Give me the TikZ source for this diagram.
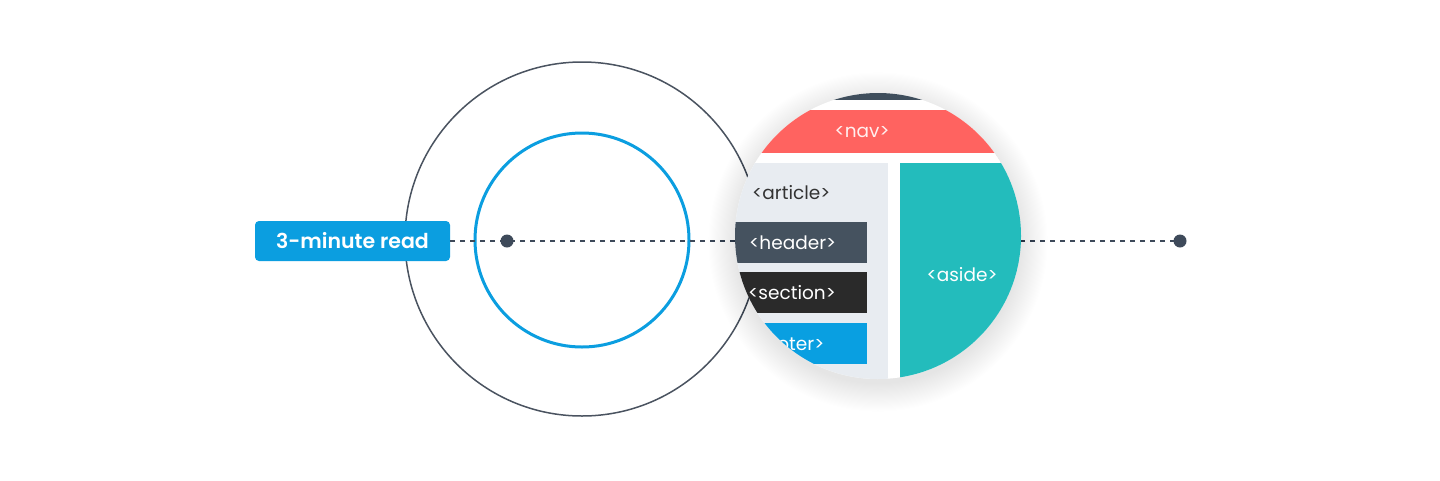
\documentclass[tikz,border=0pt]{standalone}
\usepackage{fontspec}
\setmainfont{Poppins}
\newfontfamily\semib{Poppins SemiBold}
\definecolor{brandblue}{RGB}{11,158,224}
\definecolor{outerline}{RGB}{74,83,96}
\definecolor{slate}{RGB}{62,74,90}
\definecolor{topdark}{RGB}{63,78,92}
\definecolor{navred}{RGB}{255,99,96}
\definecolor{artgray}{RGB}{232,236,241}
\definecolor{hdrcol}{RGB}{69,82,95}
\definecolor{seccol}{RGB}{42,42,42}
\definecolor{ftrcol}{RGB}{9,159,225}
\definecolor{asidecol}{RGB}{35,188,188}
\definecolor{arttext}{RGB}{51,51,51}
\tikzset{
  ring/.style={circle, inner sep=0pt, fill=none},
  dotnode/.style={circle, fill=slate, minimum size=13pt, inner sep=0pt},
  readlabel/.style={rectangle, rounded corners=4pt, fill=brandblue, text=white,
    minimum width=195pt, minimum height=40pt, inner sep=0pt,
    font=\semib\fontsize{20.5}{24}\selectfont},
  dashline/.style={draw=slate, line width=1.5pt, dash pattern=on 4.5pt off 5.5pt},
  tagtext/.style={inner sep=0pt, font=\fontsize{18.5}{22}\selectfont},
}
\begin{document}
\begin{tikzpicture}[x=1pt,y=-1pt]
\useasboundingbox (0,0) rectangle (1440,480);
\fill[white] (0,0) rectangle (1440,480);
% rings
\node[ring, draw=outerline, line width=1.5pt, minimum size=354pt] (outerc) at (582,239) {};
\node[ring, draw=brandblue, line width=3pt, minimum size=214pt] (innerc) at (582,240) {};
% label and dots
\node[readlabel] (lbl) at (352.5,241) {3-minute read};
\node[dotnode] (d1) at (507,241) {};
\node[dotnode] (d2) at (1180,241) {};
\draw[dashline] (lbl.east) -- (d2.center);
% magnifier
\coordinate (m) at (878,236);
\foreach \i in {1,...,26}{
  \fill[black, opacity=0.0035] (878,242) circle[radius={(141+1.1*\i)*1pt}];
}
\begin{scope}
  \clip (m) circle[radius=143pt];
  \fill[white] (m) circle[radius=143pt];
  \fill[topdark] (700,80) rectangle (1060,100);
  \fill[navred] (700,110) rectangle (1060,153);
  \fill[artgray] (700,163) rectangle (888,400);
  \fill[asidecol] (900,163) rectangle (1060,400);
  \fill[hdrcol] (700,222) rectangle (867,263);
  \fill[seccol] (700,272) rectangle (867,313);
  \fill[ftrcol] (700,323) rectangle (867,364);
  \node[tagtext, text=white!90!navred] (nav) at (862,132) {<nav>};
  \node[tagtext, text=arttext, anchor=west] (article) at (752,193) {<article>};
  \node[tagtext, text=white, anchor=west] (header) at (749,243) {<header>};
  \node[tagtext, text=white, anchor=west] (section) at (748,293) {<section>};
  \node[tagtext, text=white, anchor=west] (footer) at (749,344) {<footer>};
  \node[tagtext, text=white] (aside) at (962,275) {<aside>};
\end{scope}
\end{tikzpicture}
\end{document}
